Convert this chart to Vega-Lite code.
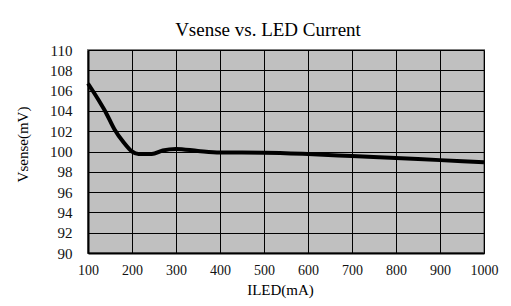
{
  "$schema": "https://vega.github.io/schema/vega-lite/v6.json",
  "width": 396,
  "height": 203,
  "autosize": "none",
  "padding": {"left": 88, "top": 50, "right": 27, "bottom": 53},
  "background": "white",
  "title": {
    "text": "Vsense vs. LED Current",
    "font": "Liberation Serif",
    "fontSize": 19,
    "fontWeight": "normal",
    "color": "black",
    "anchor": "middle",
    "dx": -18,
    "offset": 3
  },
  "data": {
    "values": [
      {"iled": 100, "vsense": 106.7},
      {"iled": 125, "vsense": 105.0},
      {"iled": 140, "vsense": 103.9},
      {"iled": 160, "vsense": 102.2},
      {"iled": 180, "vsense": 100.95},
      {"iled": 200, "vsense": 100.0},
      {"iled": 215, "vsense": 99.75},
      {"iled": 245, "vsense": 99.75},
      {"iled": 270, "vsense": 100.1},
      {"iled": 300, "vsense": 100.25},
      {"iled": 350, "vsense": 100.05},
      {"iled": 400, "vsense": 99.9},
      {"iled": 500, "vsense": 99.88},
      {"iled": 600, "vsense": 99.75},
      {"iled": 700, "vsense": 99.55},
      {"iled": 800, "vsense": 99.35},
      {"iled": 900, "vsense": 99.15},
      {"iled": 1000, "vsense": 98.95}
    ]
  },
  "mark": {"type": "line", "color": "black", "strokeWidth": 4, "interpolate": "monotone"},
  "encoding": {
    "x": {
      "field": "iled",
      "type": "quantitative",
      "scale": {"domain": [100, 1000], "nice": false, "zero": false},
      "axis": {
        "title": "ILED(mA)",
        "format": "d",
        "values": [100, 200, 300, 400, 500, 600, 700, 800, 900, 1000],
        "labelPadding": 10,
        "titleX": 192,
        "titleY": 36,
        "titleBaseline": "middle"
      }
    },
    "y": {
      "field": "vsense",
      "type": "quantitative",
      "scale": {"domain": [90, 110], "nice": false, "zero": false},
      "axis": {
        "title": "Vsense(mV)",
        "format": "d",
        "values": [90, 92, 94, 96, 98, 100, 102, 104, 106, 108, 110],
        "labelPadding": 16,
        "titleX": -66,
        "titleY": 94,
        "titleBaseline": "middle"
      }
    }
  },
  "config": {
    "view": {"fill": "#c0c0c0", "stroke": "#808080", "strokeWidth": 2},
    "axis": {
      "grid": true,
      "gridColor": "black",
      "gridOpacity": 1,
      "gridWidth": 1,
      "domain": true,
      "domainColor": "black",
      "domainWidth": 2,
      "ticks": false,
      "labelFont": "Liberation Serif",
      "labelFontSize": 14,
      "labelColor": "#111111",
      "titleFont": "Liberation Serif",
      "titleFontSize": 15,
      "titleFontWeight": "normal",
      "titleColor": "black",
      "labelOverlap": false,
      "labelFlush": false
    },
    "axisY": {"labelFontSize": 15}
  }
}
